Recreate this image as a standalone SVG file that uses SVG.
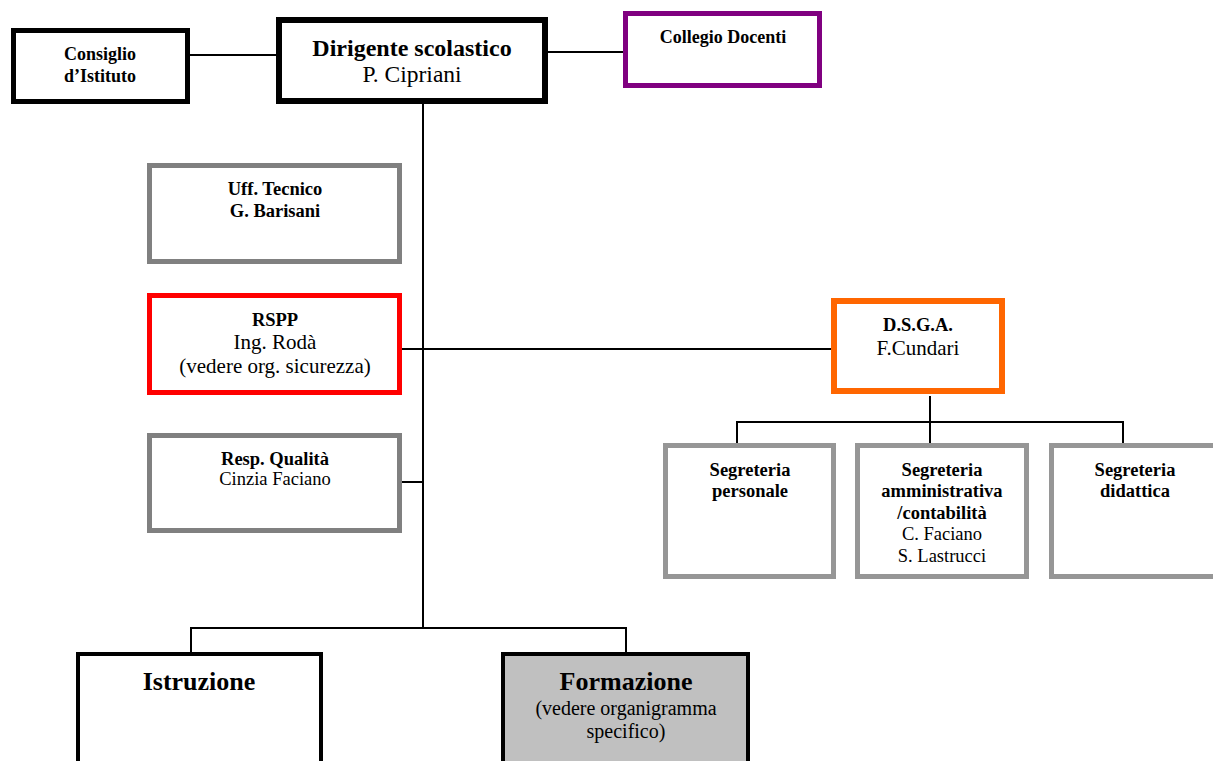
<svg xmlns="http://www.w3.org/2000/svg" width="1213" height="761" viewBox="0 0 1213 761">
<style>
text{font-family:"Liberation Serif","Times New Roman",serif;fill:#000;text-anchor:middle}
.b{font-weight:bold}
.box{fill:#fff}
.k{stroke:#000}
.g{stroke:#808080}
.lg{stroke:#969696}
.conn line{stroke:#000;stroke-width:2}
</style>
<rect width="1213" height="761" fill="#fff"/>
<g class="conn">
<line x1="190" y1="55" x2="277" y2="55"/>
<line x1="547" y1="52" x2="624" y2="52"/>
<line x1="423" y1="103" x2="423" y2="629"/>
<line x1="401" y1="349" x2="832" y2="349"/>
<line x1="401" y1="482" x2="423" y2="482"/>
<line x1="191" y1="628" x2="626" y2="628"/>
<line x1="191" y1="627" x2="191" y2="653"/>
<line x1="626" y1="627" x2="626" y2="653"/>
<line x1="930" y1="396" x2="930" y2="444"/>
<line x1="737" y1="422" x2="1123" y2="422"/>
<line x1="737" y1="421" x2="737" y2="444"/>
<line x1="1123" y1="421" x2="1123" y2="444"/>
</g>
<g id="consiglio">
<rect class="box k" x="13.5" y="30.5" width="174" height="71" stroke-width="5"/>
<text class="b" x="100" y="60" font-size="18">Consiglio</text>
<text class="b" x="100" y="82" font-size="18">d’Istituto</text>
</g>
<g id="dirigente">
<rect class="box k" x="279" y="20" width="266" height="81" stroke-width="6"/>
<text class="b" x="412" y="56" font-size="24">Dirigente scolastico</text>
<text x="412" y="82" font-size="23.5">P. Cipriani</text>
</g>
<g id="collegio">
<rect class="box" x="625.5" y="13.5" width="194" height="72" stroke="#800080" stroke-width="5"/>
<text class="b" x="723" y="43" font-size="18">Collegio Docenti</text>
</g>
<g id="ufftecnico">
<rect class="box g" x="149.5" y="165.5" width="250" height="96" stroke-width="5"/>
<text class="b" x="275" y="195" font-size="18.5">Uff. Tecnico</text>
<text class="b" x="275" y="217" font-size="18.5">G. Barisani</text>
</g>
<g id="rspp">
<rect class="box" x="149.5" y="295.5" width="250" height="97" stroke="#ff0000" stroke-width="5"/>
<text class="b" x="275" y="326" font-size="18.5">RSPP</text>
<text x="275" y="349" font-size="21">Ing. Rodà</text>
<text x="275" y="373" font-size="21">(vedere org. sicurezza)</text>
</g>
<g id="qualita">
<rect class="box g" x="149.5" y="435.5" width="250" height="95" stroke-width="5"/>
<text class="b" x="275" y="465" font-size="18.5">Resp. Qualità</text>
<text x="275" y="485" font-size="18.5">Cinzia Faciano</text>
</g>
<g id="dsga">
<rect class="box" x="834" y="301" width="168" height="90" stroke="#ff6600" stroke-width="6"/>
<text class="b" x="918" y="331" font-size="18.5">D.S.G.A.</text>
<text x="918" y="355" font-size="21">F.Cundari</text>
</g>
<g id="segpersonale">
<rect class="box lg" x="665.5" y="445.5" width="168" height="131" stroke-width="5"/>
<text class="b" x="750" y="476" font-size="18.5">Segreteria</text>
<text class="b" x="750" y="497" font-size="18.5">personale</text>
</g>
<g id="segamministrativa">
<rect class="box lg" x="857.5" y="445.5" width="169" height="131" stroke-width="5"/>
<text class="b" x="942" y="476" font-size="18.5">Segreteria</text>
<text class="b" x="942" y="497" font-size="18.5">amministrativa</text>
<text class="b" x="942" y="519" font-size="18.5">/contabilità</text>
<text x="942" y="540" font-size="18.5">C. Faciano</text>
<text x="942" y="562" font-size="18.5">S. Lastrucci</text>
</g>
<g id="segdidattica">
<rect class="box lg" x="1051.5" y="445.5" width="168" height="131" stroke-width="5"/>
<text class="b" x="1135" y="476" font-size="18.5">Segreteria</text>
<text class="b" x="1135" y="497" font-size="18.5">didattica</text>
</g>
<g id="istruzione">
<rect class="box k" x="78" y="654" width="243" height="120" stroke-width="4"/>
<text class="b" x="199" y="690" font-size="26">Istruzione</text>
</g>
<g id="formazione">
<rect x="503" y="654" width="245" height="120" fill="#c0c0c0" stroke="#000" stroke-width="4"/>
<text class="b" x="626" y="690" font-size="26">Formazione</text>
<text x="626" y="715" font-size="20">(vedere organigramma</text>
<text x="626" y="738" font-size="20">specifico)</text>
</g>
</svg>
